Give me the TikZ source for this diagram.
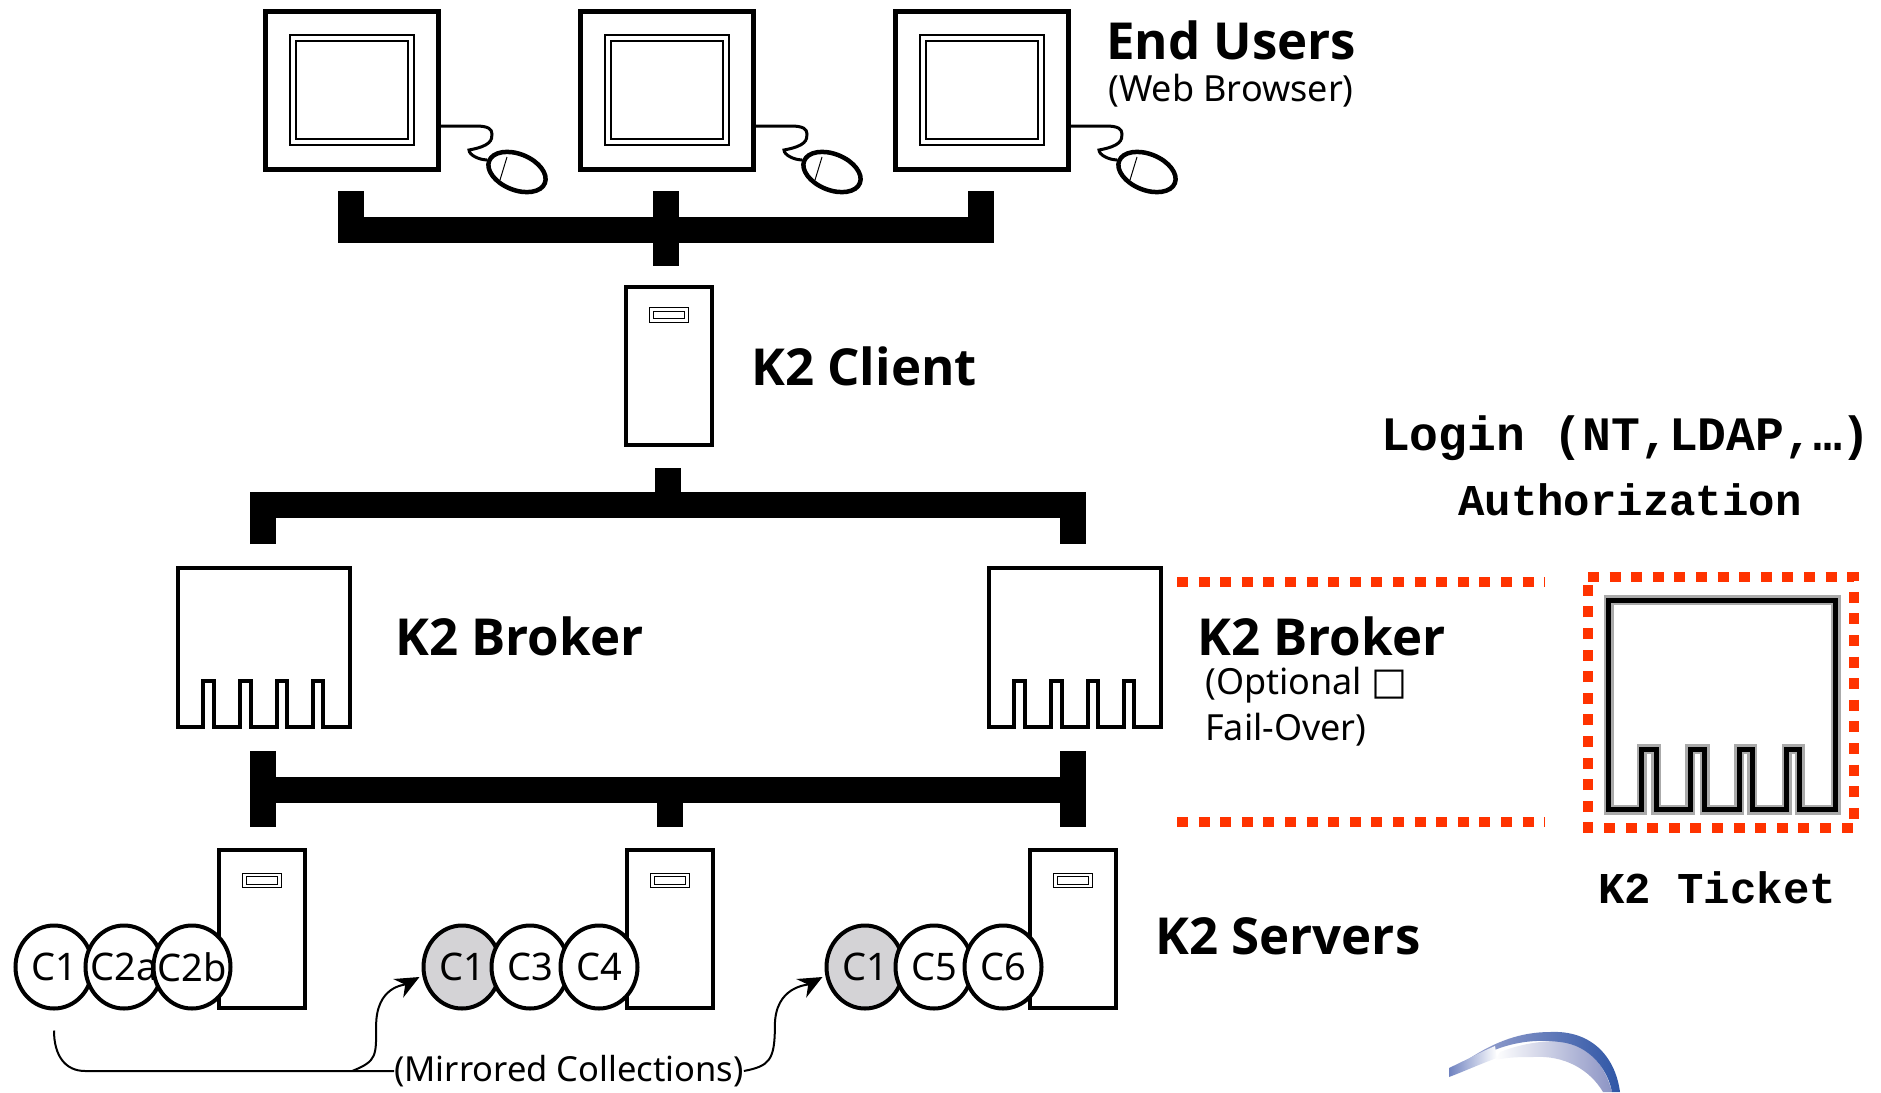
\documentclass[tikz,border=0pt]{standalone}
\usepackage{fontspec}
\setmainfont{Noto Sans}
\newfontfamily\headfont{Open Sans}
\newfontfamily\ticketfont{Liberation Mono}
\newfontfamily\symfont{DejaVu Sans}
\usetikzlibrary{arrows.meta,calc,positioning,shapes.geometric}

\definecolor{dotred}{HTML}{FF3300}
\definecolor{halo}{HTML}{AAAAAA}
\definecolor{mirrorgray}{HTML}{D4D3D6}
\definecolor{swoopdark}{HTML}{2F56A6}
\definecolor{swoopmid}{HTML}{9AA3CF}
\definecolor{swooplight}{HTML}{8C94C4}
\definecolor{swooptip}{HTML}{6F82C0}

\tikzset{
  monitor/.style={draw,line width=5pt,minimum width=173pt,minimum height=158pt},
  screen/.style={draw,line width=2pt,double=white,double distance=3.5pt,
    minimum width=118pt,minimum height=104pt},
  mouse/.style={draw,ellipse,fill=white,line width=4.5pt,rotate=-22,
    minimum width=60pt,minimum height=36pt},
  cord/.style={line width=3pt},
  tower/.style={draw,line width=4pt,fill=white,minimum width=86pt,minimum height=158pt},
  drive/.style={draw,line width=1.2pt,double=white,double distance=2.5pt,
    minimum width=35pt,minimum height=11pt,inner sep=0pt},
  bus/.style={line width=26pt},
  coll/.style={draw,ellipse,fill=white,line width=4pt,inner sep=0pt,
    minimum width=77pt,minimum height=83pt,font=\fontsize{38}{38}\selectfont},
  mirror/.style={-{Stealth[length=24pt,width=21pt]},line width=2pt},
  biglabel/.style={inner sep=0pt,font=\fontsize{51}{51}\headfont\bfseries},
  smalllabel/.style={inner sep=0pt,anchor=west,font=\fontsize{36}{36}\selectfont},
  ticketlabel/.style={inner sep=0pt,font=\fontsize{44}{44}\ticketfont\bfseries},
  reddots/.style={dotred,line width=10.5pt,dash pattern=on 11pt off 10.6pt},
  pics/broker/.style={code={
    \draw[miter limit=10] (-86,79.5) -- (-86,-79.5) -- (86,-79.5) -- (86,79.5) -- (59,79.5)
      -- (59,33.5) -- (49,33.5) -- (49,79.5) -- (23,79.5) -- (23,33.5) -- (13,33.5)
      -- (13,79.5) -- (-13,79.5) -- (-13,33.5) -- (-24,33.5) -- (-24,79.5) -- (-50,79.5)
      -- (-50,33.5) -- (-61,33.5) -- (-61,79.5) -- cycle;
  }}
}

\begin{document}
\begin{tikzpicture}[x=1pt,y=-1pt,node distance=315pt]
  \useasboundingbox (0,0) rectangle (1881,1092);

  % end users
  \node[monitor] (pc1) at (352,90) {};
  \node[monitor] (pc2) [right of=pc1] {};
  \node[monitor] (pc3) [right of=pc2] {};
  \node[screen] at (pc1) {};
  \node[screen] at (pc2) {};
  \node[screen] at (pc3) {};
  \node[mouse] (mouse1) at (517,172) {};
  \node[mouse] (mouse2) at (832,172) {};
  \node[mouse] (mouse3) at (1147,172) {};

  \draw[cord] ($(pc1.east)+(0,36)$) -- ++(35,0) .. controls +(12,0) and +(0,-5) .. ++(16,8)
    .. controls +(0,6) and +(22,-4) .. ++(-23,16) .. controls +(0,5) and +(-8,0) .. (mouse1.west);
  \draw[cord] ($(pc2.east)+(0,36)$) -- ++(35,0) .. controls +(12,0) and +(0,-5) .. ++(16,8)
    .. controls +(0,6) and +(22,-4) .. ++(-23,16) .. controls +(0,5) and +(-8,0) .. (mouse2.west);
  \draw[cord] ($(pc3.east)+(0,36)$) -- ++(35,0) .. controls +(12,0) and +(0,-5) .. ++(16,8)
    .. controls +(0,6) and +(22,-4) .. ++(-23,16) .. controls +(0,5) and +(-8,0) .. (mouse3.west);
  \draw[line width=1pt] ($(mouse1)+(-10,-15)$) -- ($(mouse1)+(-17,8)$);
  \draw[line width=1pt] ($(mouse2)+(-10,-15)$) -- ($(mouse2)+(-17,8)$);
  \draw[line width=1pt] ($(mouse3)+(-10,-15)$) -- ($(mouse3)+(-17,8)$);

  \node[biglabel,anchor=west] (users) at (1106,40) {End Users};
  \node[smalllabel] (browser) at (1108,91) {(Web Browser)};

  % buses
  \coordinate (busa) at (351,191);
  \coordinate (busb) at (981,191);
  \coordinate (busc) at (666,191);
  \coordinate (busd) at (666,266);
  \draw[bus] (busa) -- (351,230) -- (981,230) -- (busb);
  \draw[bus] (busc) -- (busd);

  \node[tower] (client) at (669,366) {};
  \node[drive] at ($(client.north)+(0,30)$) {};
  \node[biglabel,right=37pt of client] (clientlabel) {K2 Client};

  \coordinate (bruptop) at (668,468);
  \coordinate (brleft) at (263,544);
  \coordinate (brright) at (1073,544);
  \draw[bus] (bruptop) -- (668,505);
  \draw[bus] (brleft) -- (263,505) -- (1073,505) -- (brright);

  % brokers
  \pic at (264,647.5) [line width=4pt] {broker};
  \pic at (1075,647.5) [line width=4pt] {broker};
  \node[biglabel,anchor=west] (brokerone) at (395,636) {K2 Broker};
  \node[biglabel,anchor=west] (brokertwo) at (1197,636) {K2 Broker};
  \node[smalllabel] (optional) at (1205,685) {(Optional {\symfont\fontsize{38}{38}\selectfont □}};
  \node[smalllabel] (failover) at (1205,730) {Fail-Over)};

  \draw[reddots] (1177,582) -- (1545,582);
  \draw[reddots] (1177,822) -- (1545,822);
  \draw[reddots] (1588,577) -- (1854,577) -- (1854,828) -- (1588,828) -- cycle;

  % ticket
  \pic at (1722,705) [color=halo,line width=10pt,xscale=1.32,yscale=1.32] {broker};
  \pic at (1722,705) [line width=5pt,xscale=1.32,yscale=1.32] {broker};
  \node[ticketlabel,font=\fontsize{48}{48}\ticketfont\bfseries] (login) at (1626,438) {Login (NT,LDAP,…)};
  \node[ticketlabel] (authz) at (1630,500) {Authorization};
  \node[ticketlabel] (ticket) at (1717,888) {K2 Ticket};

  % servers
  \coordinate (srvleftup) at (262.5,751);
  \coordinate (srvleftdn) at (262.5,827);
  \coordinate (srvrightup) at (1073,751);
  \coordinate (srvrightdn) at (1073,827);
  \coordinate (srvmid) at (670,827);
  \draw[bus] (srvleftup) -- (srvleftdn);
  \draw[bus] (srvrightup) -- (srvrightdn);
  \draw[bus] (262.5,790) -- (1073,790);
  \draw[bus] (670,790) -- (srvmid);

  \node[tower] (srv1) at (262,928.5) {};
  \node[tower] (srv2) at (670,928.5) {};
  \node[tower] (srv3) at (1073,928.5) {};
  \node[drive] at ($(srv1.north)+(0,33)$) {};
  \node[drive] at ($(srv2.north)+(0,33)$) {};
  \node[drive] at ($(srv3.north)+(0,33)$) {};
  \node[biglabel,anchor=west] (servers) at (1155,936) {K2 Servers};

  \node[coll] (c1a) at (54,967) {C1};
  \node[coll] (c2a) at (124,967) {\makebox[0pt]{C2a}};
  \node[coll] (c2b) at (192,967) {\makebox[0pt]{C2b}};
  \node[coll,fill=mirrorgray] (c1b) at (462,967) {C1};
  \node[coll] (c3) at (530,967) {C3};
  \node[coll] (c4) at (599,967) {C4};
  \node[coll,fill=mirrorgray] (c1c) at (865,967) {C1};
  \node[coll] (c5) at (934,967) {C5};
  \node[coll] (c6) at (1003,967) {C6};

  \node[smalllabel,anchor=center,font=\fontsize{34.5}{35}\selectfont] (mirrored) at (569,1071) {(Mirrored Collections)};
  \draw[line width=2pt] ($(c1a.south)+(0,20)$) .. controls +(0,25) and +(-20,0) .. ($(mirrored.west)+(-309,0)$)
    -- (mirrored.west);
  \draw[mirror] ($(mirrored.west)+(-42,0)$) .. controls +(25,-10) and +(0,30) .. ($(mirrored.west)+(-18,-45)$)
    .. controls +(0,-40) and +(-15,8) .. ($(c1b.west)+(-2,10)$);
  \draw[mirror] (mirrored.east) .. controls +(25,-5) and +(0,35) .. ($(mirrored.east)+(31,-45)$)
    .. controls +(0,-40) and +(-15,8) .. ($(c1c.west)+(-2,10)$);

  % swoosh in the corner
  \shade[left color=white,right color=swooplight]
    (1500,1052) .. controls (1530,1040) and (1560,1040) .. (1570,1042)
    .. controls (1590,1050) and (1605,1065) .. (1612,1092) -- (1603,1092)
    .. controls (1590,1070) and (1565,1055) .. (1533,1057)
    .. controls (1520,1057) and (1510,1057) .. (1495,1060) -- cycle;
  \shade[left color=swoopmid,right color=swoopdark]
    (1470,1058) .. controls (1495,1042) and (1520,1032) .. (1550,1032)
    .. controls (1590,1030) and (1615,1055) .. (1620,1092) -- (1612,1092)
    .. controls (1608,1070) and (1590,1045) .. (1560,1042)
    .. controls (1530,1038) and (1505,1045) .. (1490,1052) -- cycle;
  \shade[left color=swooptip,right color=white]
    (1449,1068) .. controls (1470,1058) and (1485,1050) .. (1495,1046) -- (1497,1058)
    .. controls (1480,1064) and (1465,1071) .. (1449,1077) -- cycle;
\end{tikzpicture}
\end{document}
